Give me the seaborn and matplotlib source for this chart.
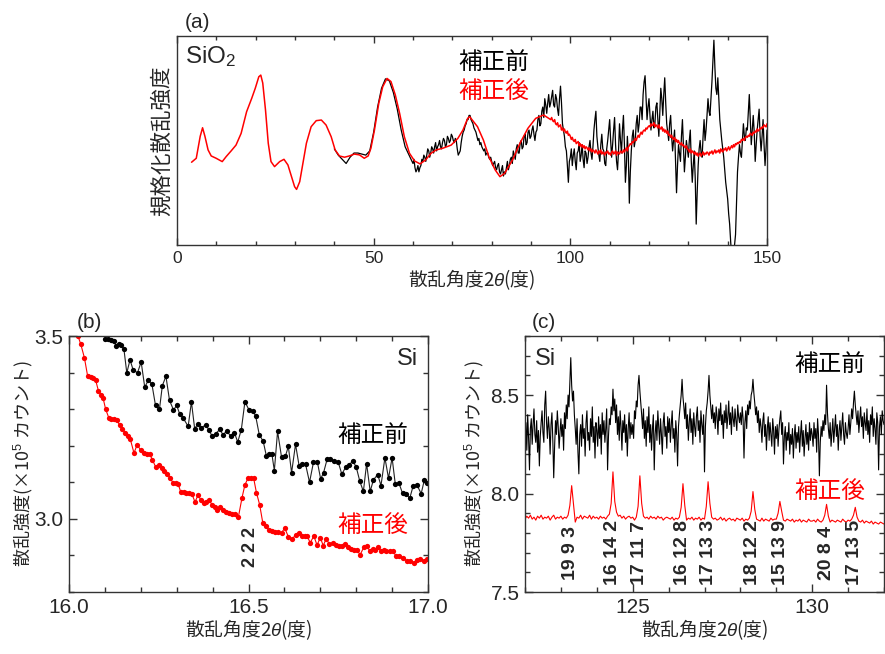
import matplotlib
matplotlib.use('Agg')
import matplotlib.pyplot as plt
from matplotlib.ticker import MultipleLocator, NullLocator
import numpy as np
import pandas as pd
import seaborn as sns

sns.set_style('ticks')
plt.rcParams['font.family'] = ['Liberation Sans', 'Noto Sans CJK JP']
plt.rcParams['mathtext.fontset'] = 'custom'
plt.rcParams['mathtext.rm'] = 'Liberation Sans'
plt.rcParams['mathtext.it'] = 'Liberation Sans:italic'
JP = 'Noto Sans CJK JP'

RED = '#ff0000'
BLK = '#000000'
AXC = '#333333'

# ---- (a) SiO2 規格化散乱強度 (任意単位) ----
red_a_x_smooth = [3.7, 4.9, 5.9, 6.5, 7.1, 7.9, 8.7, 9.95, 11.5, 12.5, 13.8, 15.0, 16.3, 17.7,
                  19.0, 19.9, 20.8, 21.3, 21.8, 22.5, 23.2, 23.9, 24.8, 26.1, 27.2, 28.2, 29.1,
                  29.9, 30.4, 31.2, 32.0, 32.9, 34.1, 35.4, 36.7, 37.9, 39.2, 40.2, 41.3, 42.6,
                  43.8, 45.1, 46.4, 47.6, 48.6, 49.3, 50.2, 51.3, 52.3, 53.4, 54.4, 55.5, 56.6,
                  57.8, 59.1, 60.4, 61.8, 63.2, 64.6, 65.9, 67.6, 69.7, 71.4, 72.7, 73.9, 74.4,
                  76.4, 77.9, 79.3, 80.9, 82.1, 83.3, 85.3, 87.2, 89.2, 91.2, 93.2]
red_a_y_smooth = [0.396, 0.415, 0.52, 0.561, 0.52, 0.455, 0.426, 0.415, 0.399, 0.423, 0.451, 0.478,
                  0.534, 0.638, 0.702, 0.75, 0.805, 0.813, 0.775, 0.646, 0.487, 0.399, 0.375, 0.399,
                  0.41, 0.383, 0.327, 0.279, 0.266, 0.303, 0.391, 0.487, 0.566, 0.595, 0.598, 0.574,
                  0.518, 0.455, 0.426, 0.42, 0.426, 0.435, 0.431, 0.415, 0.426, 0.463, 0.55, 0.678,
                  0.757, 0.797, 0.782, 0.718, 0.63, 0.518, 0.439, 0.402, 0.388, 0.407, 0.439, 0.455,
                  0.463, 0.478, 0.51, 0.55, 0.606, 0.614, 0.566, 0.502, 0.422, 0.359, 0.327, 0.343,
                  0.407, 0.487, 0.558, 0.606, 0.622]
# 95.00 - 150.00, 0.25度刻み
red_a_tail = [0.60, 0.61, 0.595, 0.59, 0.60, 0.58, 0.575, 0.585, 0.565, 0.57, 0.575, 0.55, 0.56, 0.545, 0.555, 0.54, 0.535, 0.545, 0.525, 0.53,
              0.52, 0.505, 0.515, 0.50, 0.495, 0.505, 0.485, 0.49, 0.495, 0.475, 0.485, 0.47, 0.48, 0.465, 0.475, 0.46, 0.47, 0.465, 0.455, 0.465,
              0.45, 0.46, 0.445, 0.455, 0.45, 0.44, 0.455, 0.445, 0.435, 0.45, 0.44, 0.455, 0.435, 0.445, 0.44, 0.43, 0.445, 0.44, 0.45, 0.435,
              0.44, 0.43, 0.445, 0.45, 0.435, 0.44, 0.45, 0.43, 0.445, 0.44, 0.435, 0.45, 0.445, 0.44, 0.455, 0.445, 0.455, 0.465, 0.45, 0.47,
              0.475, 0.485, 0.48, 0.495, 0.49, 0.50, 0.51, 0.50, 0.515, 0.525, 0.515, 0.53, 0.54, 0.53, 0.545, 0.55, 0.545, 0.56, 0.555, 0.565,
              0.57, 0.565, 0.58, 0.57, 0.575, 0.585, 0.565, 0.575, 0.57, 0.56, 0.575, 0.56, 0.555, 0.565, 0.545, 0.555, 0.54, 0.55, 0.535, 0.545,
              0.525, 0.53, 0.515, 0.525, 0.51, 0.505, 0.515, 0.495, 0.505, 0.49, 0.50, 0.485, 0.48, 0.49, 0.475, 0.48, 0.47, 0.465, 0.475, 0.46,
              0.455, 0.445, 0.46, 0.44, 0.45, 0.445, 0.435, 0.445, 0.43, 0.44, 0.425, 0.435, 0.44, 0.425, 0.435, 0.445, 0.43, 0.44, 0.435, 0.445,
              0.44, 0.43, 0.445, 0.44, 0.45, 0.435, 0.445, 0.455, 0.44, 0.45, 0.445, 0.455, 0.44, 0.46, 0.45, 0.445, 0.46, 0.455, 0.465, 0.45,
              0.46, 0.47, 0.455, 0.465, 0.475, 0.465, 0.48, 0.47, 0.485, 0.48, 0.49, 0.485, 0.495, 0.49, 0.505, 0.50, 0.51, 0.50, 0.515, 0.52,
              0.515, 0.525, 0.52, 0.535, 0.53, 0.525, 0.54, 0.535, 0.545, 0.54, 0.555, 0.545, 0.55, 0.56, 0.555, 0.565, 0.56, 0.575, 0.57, 0.565,
              0.58]
blk_a_x_head = [40, 41, 42, 43, 44, 45, 46, 47, 48, 49, 50, 51, 52, 53, 54, 55, 56, 57, 58, 59]
blk_a_y_head = [0.46, 0.43, 0.41, 0.39, 0.42, 0.44, 0.44, 0.435, 0.43, 0.45,
                0.54, 0.66, 0.75, 0.795, 0.785, 0.73, 0.65, 0.55, 0.47, 0.43]
# 60.00 - 150.00, 0.25度刻み
blk_a_tail = [0.39, 0.41, 0.37, 0.35, 0.36, 0.38, 0.35, 0.37, 0.38, 0.41, 0.40, 0.43, 0.42, 0.40, 0.43, 0.46, 0.45, 0.42, 0.44, 0.47,
              0.46, 0.44, 0.47, 0.49, 0.45, 0.47, 0.48, 0.50, 0.47, 0.46, 0.49, 0.51, 0.50, 0.47, 0.48, 0.52, 0.51, 0.49, 0.50, 0.53,
              0.52, 0.50, 0.49, 0.51, 0.50, 0.46, 0.43, 0.44, 0.45, 0.49, 0.52, 0.54, 0.55, 0.57, 0.58, 0.60, 0.60, 0.62, 0.62, 0.60,
              0.59, 0.58, 0.56, 0.55, 0.54, 0.52, 0.50, 0.51, 0.48, 0.49, 0.47, 0.46, 0.45, 0.46, 0.43, 0.44, 0.44, 0.42, 0.41, 0.42,
              0.40, 0.38, 0.39, 0.40, 0.37, 0.36, 0.38, 0.39, 0.35, 0.34, 0.36, 0.38, 0.33, 0.35, 0.34, 0.37, 0.40, 0.36, 0.38, 0.41,
              0.42, 0.39, 0.45, 0.43, 0.41, 0.46, 0.48, 0.44, 0.44, 0.49, 0.50, 0.46, 0.47, 0.52, 0.53, 0.48, 0.49, 0.54, 0.55, 0.51,
              0.52, 0.55, 0.57, 0.53, 0.50, 0.54, 0.55, 0.60, 0.62, 0.57, 0.58, 0.64, 0.66, 0.61, 0.70, 0.67, 0.63, 0.68, 0.72, 0.66,
              0.68, 0.71, 0.74, 0.67, 0.66, 0.72, 0.70, 0.65, 0.62, 0.70, 0.76, 0.68, 0.58, 0.55, 0.52, 0.47, 0.45, 0.38, 0.30, 0.40,
              0.42, 0.46, 0.38, 0.43, 0.46, 0.40, 0.36, 0.44, 0.45, 0.49, 0.40, 0.43, 0.48, 0.41, 0.37, 0.45, 0.44, 0.39, 0.42, 0.47,
              0.50, 0.44, 0.41, 0.47, 0.55, 0.60, 0.64, 0.52, 0.47, 0.43, 0.40, 0.48, 0.53, 0.46, 0.45, 0.39, 0.38, 0.46, 0.50, 0.55,
              0.60, 0.50, 0.42, 0.48, 0.55, 0.61, 0.48, 0.40, 0.36, 0.45, 0.58, 0.50, 0.44, 0.55, 0.62, 0.48, 0.30, 0.38, 0.52, 0.43,
              0.20, 0.35, 0.45, 0.52, 0.55, 0.47, 0.50, 0.58, 0.62, 0.54, 0.58, 0.66, 0.66, 0.60, 0.72, 0.78, 0.81, 0.70, 0.60, 0.66,
              0.70, 0.62, 0.55, 0.60, 0.64, 0.56, 0.58, 0.66, 0.68, 0.60, 0.52, 0.64, 0.75, 0.70, 0.62, 0.72, 0.80, 0.68, 0.58, 0.54,
              0.50, 0.58, 0.62, 0.52, 0.45, 0.50, 0.55, 0.40, 0.25, 0.38, 0.48, 0.44, 0.40, 0.52, 0.60, 0.48, 0.35, 0.42, 0.50, 0.46,
              0.42, 0.50, 0.55, 0.40, 0.30, 0.38, 0.45, 0.32, 0.10, 0.25, 0.38, 0.46, 0.50, 0.44, 0.42, 0.52, 0.60, 0.50, 0.55, 0.62,
              0.70, 0.64, 0.62, 0.70, 0.78, 0.88, 0.98, 0.85, 0.75, 0.72, 0.80, 0.70, 0.60, 0.55, 0.50, 0.46, 0.42, 0.36, 0.30, 0.26,
              0.22, 0.15, 0.10, 0.02, -0.05, -0.08, -0.10, 0.00, 0.05, 0.20, 0.35, 0.42, 0.48, 0.44, 0.42, 0.50, 0.58, 0.52, 0.50, 0.56,
              0.55, 0.64, 0.72, 0.60, 0.48, 0.55, 0.62, 0.54, 0.40, 0.48, 0.55, 0.60, 0.65, 0.52, 0.45, 0.52, 0.60, 0.48, 0.38, 0.46,
              0.55]

# ---- (b) Si 低角側 (×10^5 カウント) ----
red_b_x = [16.025, 16.033, 16.043, 16.052, 16.060, 16.068, 16.074, 16.082, 16.089, 16.095,
           16.102, 16.111, 16.118, 16.125, 16.134, 16.141, 16.149, 16.156, 16.163, 16.171,
           16.181, 16.190, 16.200, 16.208, 16.216, 16.225, 16.232, 16.241, 16.251, 16.259,
           16.266, 16.274, 16.281, 16.290, 16.298, 16.304, 16.311, 16.319, 16.327, 16.334,
           16.342, 16.351, 16.360, 16.367, 16.375, 16.383, 16.391, 16.398, 16.406, 16.413,
           16.420, 16.429, 16.437, 16.446, 16.454, 16.462, 16.472, 16.482, 16.490, 16.499,
           16.507, 16.514, 16.522, 16.531, 16.540, 16.548, 16.557, 16.566, 16.574, 16.581,
           16.592, 16.601, 16.611, 16.622, 16.631, 16.640, 16.648, 16.656, 16.663, 16.672,
           16.682, 16.691, 16.700, 16.708, 16.717, 16.725, 16.734, 16.745, 16.751, 16.760,
           16.769, 16.777, 16.786, 16.794, 16.801, 16.811, 16.821, 16.829, 16.838, 16.846,
           16.852, 16.861, 16.869, 16.877, 16.884, 16.893, 16.903, 16.911, 16.920, 16.930,
           16.941, 16.950, 16.960, 16.968, 16.979, 16.988, 16.996]
red_b_y = [3.50, 3.477, 3.44, 3.39, 3.389, 3.385, 3.38, 3.35, 3.34, 3.33,
           3.30, 3.276, 3.274, 3.272, 3.27, 3.256, 3.246, 3.236, 3.226, 3.217,
           3.18, 3.203, 3.187, 3.18, 3.178, 3.177, 3.162, 3.143, 3.147, 3.138,
           3.131, 3.124, 3.113, 3.098, 3.098, 3.096, 3.074, 3.073, 3.072, 3.07,
           3.069, 3.046, 3.066, 3.051, 3.043, 3.047, 3.051, 3.039, 3.033, 3.023,
           3.032, 3.023, 3.02, 3.015, 3.014, 3.012, 3.006, 3.058, 3.093, 3.112,
           3.112, 3.113, 3.072, 3.039, 2.988, 2.981, 2.969, 2.966, 2.965, 2.963,
           2.962, 2.975, 2.951, 2.944, 2.957, 2.96, 2.954, 2.954, 2.953, 2.935,
           2.953, 2.928, 2.949, 2.927, 2.946, 2.93, 2.934, 2.929, 2.927, 2.927,
           2.93, 2.922, 2.918, 2.915, 2.916, 2.902, 2.922, 2.925, 2.913, 2.918,
           2.914, 2.922, 2.913, 2.914, 2.913, 2.913, 2.911, 2.898, 2.898, 2.894,
           2.885, 2.885, 2.878, 2.888, 2.891, 2.885, 2.889]
blk_b_x = [16.100, 16.109, 16.116, 16.124, 16.132, 16.139, 16.145, 16.153, 16.161, 16.170,
           16.179, 16.191, 16.201, 16.211, 16.221, 16.231, 16.241, 16.252, 16.260, 16.270,
           16.280, 16.291, 16.300, 16.308, 16.317, 16.332, 16.341, 16.350, 16.359, 16.369,
           16.381, 16.389, 16.399, 16.409, 16.420, 16.429, 16.439, 16.450, 16.461, 16.470,
           16.480, 16.490, 16.502, 16.512, 16.520, 16.530, 16.541, 16.550, 16.558, 16.565,
           16.572, 16.581, 16.592, 16.603, 16.611, 16.620, 16.631, 16.641, 16.650, 16.659,
           16.670, 16.681, 16.692, 16.701, 16.709, 16.719, 16.728, 16.739, 16.750, 16.760,
           16.771, 16.780, 16.790, 16.800, 16.810, 16.820, 16.829, 16.839, 16.848, 16.860,
           16.869, 16.880, 16.890, 16.900, 16.909, 16.919, 16.929, 16.939, 16.949, 16.959,
           16.969, 16.981, 16.990, 16.998]
blk_b_y = [3.493, 3.491, 3.490, 3.487, 3.472, 3.479, 3.475, 3.464, 3.399, 3.435,
           3.406, 3.40, 3.429, 3.36, 3.379, 3.368, 3.31, 3.30, 3.364, 3.39,
           3.324, 3.298, 3.31, 3.288, 3.277, 3.253, 3.32, 3.247, 3.259, 3.248,
           3.258, 3.244, 3.226, 3.233, 3.245, 3.23, 3.24, 3.227, 3.235, 3.21,
           3.244, 3.32, 3.297, 3.296, 3.281, 3.23, 3.212, 3.171, 3.177, 3.178,
           3.132, 3.239, 3.169, 3.172, 3.198, 3.126, 3.204, 3.145, 3.149, 3.149,
           3.10, 3.155, 3.155, 3.109, 3.126, 3.163, 3.163, 3.157, 3.155, 3.122,
           3.142, 3.146, 3.159, 3.142, 3.103, 3.075, 3.151, 3.075, 3.107, 3.121,
           3.091, 3.167, 3.111, 3.167, 3.094, 3.098, 3.07, 3.069, 3.056, 3.091,
           3.093, 3.069, 3.107, 3.099]

# ---- (c) Si 高角側 (×10^5 カウント) ----
# 補正前: 122.000 - 132.000, 0.025度刻み
blk_c = [8.30, 8.36, 8.22, 8.40, 8.28, 8.12, 8.33, 8.38, 8.25, 8.35, 8.43, 8.30, 8.26, 8.37, 8.21, 8.32, 8.14, 8.29, 8.36, 8.42,
         8.31, 8.26, 8.45, 8.52, 8.36, 8.28, 8.39, 8.33, 8.20, 8.35, 8.41, 8.27, 8.08, 8.24, 8.37, 8.30, 8.42, 8.34, 8.23, 8.31,
         8.38, 8.29, 8.35, 8.22, 8.41, 8.33, 8.45, 8.38, 8.50, 8.44, 8.56, 8.69, 8.55, 8.47, 8.52, 8.40, 8.33, 8.25, 8.38, 8.21,
         8.10, 8.30, 8.35, 8.24, 8.40, 8.28, 8.33, 8.19, 8.36, 8.42, 8.27, 8.31, 8.22, 8.38, 8.29, 8.44, 8.26, 8.34, 8.18, 8.36,
         8.32, 8.24, 8.39, 8.28, 8.35, 8.20, 8.41, 8.30, 8.37, 8.26, 8.33, 8.43, 8.12, 8.29, 8.38, 8.35, 8.44, 8.40, 8.53, 8.42,
         8.48, 8.36, 8.45, 8.30, 8.39, 8.27, 8.42, 8.34, 8.22, 8.37, 8.31, 8.40, 8.26, 8.35, 8.19, 8.33, 8.41, 8.28, 8.36, 8.30,
         8.35, 8.28, 8.42, 8.38, 8.47, 8.44, 8.55, 8.60, 8.52, 8.46, 8.40, 8.33, 8.43, 8.28, 8.37, 8.24, 8.39, 8.31, 8.44, 8.26,
         8.35, 8.22, 8.33, 8.40, 8.12, 8.30, 8.37, 8.27, 8.42, 8.33, 8.25, 8.38, 8.30, 8.20, 8.36, 8.41, 8.29, 8.34, 8.23, 8.39,
         8.31, 8.38, 8.26, 8.35, 8.42, 8.28, 8.33, 8.21, 8.37, 8.30, 8.14, 8.34, 8.40, 8.45, 8.50, 8.58, 8.49, 8.44, 8.38, 8.46,
         8.33, 8.40, 8.27, 8.36, 8.43, 8.31, 8.38, 8.25, 8.41, 8.34, 8.29, 8.39, 8.44, 8.32, 8.37, 8.26, 8.42, 8.35, 8.30, 8.40,
         8.11, 8.34, 8.42, 8.46, 8.52, 8.60, 8.50, 8.44, 8.38, 8.45, 8.36, 8.41, 8.33, 8.44, 8.39, 8.30, 8.43, 8.37, 8.46, 8.35,
         8.40, 8.28, 8.42, 8.36, 8.45, 8.33, 8.39, 8.47, 8.35, 8.41, 8.30, 8.44, 8.38, 8.34, 8.43, 8.37, 8.32, 8.45, 8.39, 8.36,
         8.41, 8.35, 8.44, 8.38, 8.18, 8.36, 8.42, 8.33, 8.45, 8.40, 8.47, 8.43, 8.50, 8.52, 8.58, 8.51, 8.46, 8.40, 8.44, 8.36,
         8.42, 8.31, 8.38, 8.34, 8.26, 8.37, 8.41, 8.29, 8.35, 8.22, 8.33, 8.39, 8.27, 8.36, 8.30, 8.24, 8.38, 8.32, 8.20, 8.34,
         8.28, 8.35, 8.24, 8.33, 8.38, 8.42, 8.30, 8.36, 8.15, 8.29, 8.34, 8.22, 8.31, 8.27, 8.36, 8.20, 8.30, 8.25, 8.33, 8.18,
         8.29, 8.35, 8.23, 8.31, 8.26, 8.34, 8.21, 8.30, 8.37, 8.24, 8.32, 8.19, 8.28, 8.35, 8.25, 8.31, 8.22, 8.36, 8.27, 8.33,
         8.30, 8.24, 8.36, 8.28, 8.33, 8.21, 8.38, 8.30, 8.09, 8.26, 8.34, 8.29, 8.37, 8.32, 8.40, 8.35, 8.55, 8.41, 8.33, 8.28,
         8.36, 8.24, 8.31, 8.38, 8.26, 8.33, 8.40, 8.29, 8.35, 8.22, 8.32, 8.37, 8.27, 8.34, 8.41, 8.30, 8.25, 8.36, 8.31, 8.28,
         8.33, 8.40, 8.30, 8.36, 8.43, 8.38, 8.46, 8.52, 8.45, 8.40, 8.35, 8.42, 8.31, 8.38, 8.44, 8.34, 8.39, 8.28, 8.41, 8.36,
         8.32, 8.43, 8.30, 8.37, 8.26, 8.40, 8.35, 8.44, 8.29, 8.38, 8.33, 8.25, 8.41, 8.36, 8.12, 8.34, 8.39, 8.30, 8.42, 8.37,
         8.35]
# 補正後: 122.00 - 132.00, 0.05度刻み
red_c = [7.87, 7.885, 7.875, 7.89, 7.87, 7.88, 7.865, 7.885, 7.875, 7.89, 7.87, 7.88, 7.875, 7.885, 7.865, 7.88, 7.89, 7.87, 7.88, 7.875,
         7.885, 7.87, 7.88, 7.875, 7.89, 7.94, 8.04, 7.95, 7.855, 7.88, 7.875, 7.89, 7.87, 7.885, 7.88, 7.875, 7.89, 7.87, 7.885, 7.875,
         7.88, 7.87, 7.885, 7.875, 7.88, 7.87, 7.885, 7.895, 7.95, 8.11, 7.96, 7.905, 7.885, 7.89, 7.875, 7.885, 7.87, 7.88, 7.885, 7.875,
         7.88, 7.865, 7.88, 7.935, 8.09, 7.95, 7.885, 7.875, 7.88, 7.87, 7.885, 7.875, 7.88, 7.87, 7.885, 7.875, 7.88, 7.865, 7.875, 7.88,
         7.875, 7.87, 7.88, 7.865, 7.875, 7.87, 7.88, 7.93, 8.05, 7.94, 7.865, 7.875, 7.87, 7.88, 7.865, 7.875, 7.87, 7.88, 7.865, 7.875,
         7.87, 7.935, 8.06, 7.95, 7.88, 7.87, 7.875, 7.865, 7.87, 7.88, 7.865, 7.875, 7.86, 7.87, 7.875, 7.865, 7.87, 7.86, 7.875, 7.87,
         7.865, 7.875, 7.86, 7.87, 7.865, 7.875, 7.91, 8.01, 7.92, 7.87, 7.865, 7.86, 7.875, 7.86, 7.87, 7.865, 7.86, 7.875, 7.865, 7.87,
         7.87, 7.90, 7.96, 7.91, 7.865, 7.86, 7.87, 7.865, 7.86, 7.87, 7.855, 7.865, 7.86, 7.87, 7.855, 7.865, 7.86, 7.855, 7.87, 7.86,
         7.86, 7.865, 7.855, 7.87, 7.86, 7.855, 7.865, 7.89, 7.945, 7.885, 7.855, 7.865, 7.86, 7.855, 7.865, 7.86, 7.855, 7.87, 7.86, 7.855,
         7.865, 7.86, 7.87, 7.89, 7.93, 7.88, 7.86, 7.855, 7.865, 7.85, 7.86, 7.855, 7.85, 7.86, 7.845, 7.855, 7.85, 7.845, 7.855, 7.85,
         7.845]
peak_pos = [123.28, 124.45, 125.18, 126.38, 127.12, 128.35, 129.12, 130.41, 131.18]
peak_hkl = ['19 9 3', '16 14 2', '17 11 7', '16 12 8', '17 13 3', '18 12 2', '15 13 9', '20 8 4', '17 13 5']

# ---- DataFrames ----
df_a_red = pd.DataFrame({'x': red_a_x_smooth + list(np.linspace(95.0, 150.0, len(red_a_tail))),
                         'y': red_a_y_smooth + red_a_tail})
df_a_blk = pd.DataFrame({'x': blk_a_x_head + list(np.linspace(60.0, 150.0, len(blk_a_tail))),
                         'y': blk_a_y_head + blk_a_tail})
x_c_blk = np.linspace(122.0, 132.0, len(blk_c))
x_c_red = np.linspace(122.0, 132.0, len(red_c))

W, H = 885, 654
fig = plt.figure(figsize=(W / 100, H / 100), dpi=100)
ax_a = fig.add_axes([177 / W, 1 - 245 / H, 590 / W, 209 / H])
ax_b = fig.add_axes([69 / W, 1 - 592 / H, 359 / W, 256 / H])
ax_c = fig.add_axes([525 / W, 1 - 592 / H, 359 / W, 256 / H])


def ftext(x, y, s, **kw):
    fig.text(x / W, 1 - y / H, s, **kw)


def style(ax, size):
    for sp in ax.spines.values():
        sp.set_visible(True)
        sp.set_color(AXC)
        sp.set_linewidth(1.0)
    ax.tick_params(which='both', direction='in', top=True, right=True,
                   color=AXC, width=1.0, labelsize=size, pad=4)
    ax.tick_params(which='major', length=6)
    ax.tick_params(which='minor', length=3.5)


# (a)
sns.lineplot(data=df_a_blk, x='x', y='y', ax=ax_a, color=BLK, linewidth=0.9,
             sort=False, estimator=None, zorder=2)
sns.lineplot(data=df_a_red, x='x', y='y', ax=ax_a, color=RED, linewidth=1.1,
             sort=False, estimator=None, zorder=3)
ax_a.set_xlim(0, 150)
ax_a.set_ylim(0, 1)
style(ax_a, 12.5)
ax_a.xaxis.set_major_locator(MultipleLocator(50))
ax_a.xaxis.set_minor_locator(MultipleLocator(10))
ax_a.yaxis.set_major_locator(NullLocator())
ax_a.tick_params(axis='x', which='major', length=5)
ax_a.tick_params(axis='x', which='minor', length=3)
ax_a.set_xlabel('散乱角度2$\\mathit{\\theta}$(度)', family=JP, fontsize=13.5)
ax_a.xaxis.set_label_coords(0.5, -0.1675)
ax_a.xaxis.label.set_verticalalignment('center')
ax_a.set_ylabel('規格化散乱強度', family=JP, fontsize=15.5)
ax_a.yaxis.set_label_coords(-0.0254, 0.5)
ax_a.yaxis.label.set_verticalalignment('center')

# (b)
sns.lineplot(x=blk_b_x, y=blk_b_y, ax=ax_b, color='#222222', linewidth=0.8, marker='o',
             markersize=3.8, markerfacecolor=BLK, markeredgewidth=0, sort=False, estimator=None)
sns.lineplot(x=red_b_x, y=red_b_y, ax=ax_b, color=RED, linewidth=0.8, marker='o',
             markersize=3.8, markerfacecolor=RED, markeredgewidth=0, sort=False, estimator=None)
ax_b.set_xlim(16.0, 17.0)
ax_b.set_ylim(2.8, 3.5)
style(ax_b, 15)
ax_b.xaxis.set_major_locator(MultipleLocator(0.5))
ax_b.xaxis.set_minor_locator(MultipleLocator(0.1))
ax_b.yaxis.set_major_locator(MultipleLocator(0.5))
ax_b.yaxis.set_minor_locator(MultipleLocator(0.1))
ax_b.xaxis.set_major_formatter('{x:.1f}')
ax_b.yaxis.set_major_formatter('{x:.1f}')

# (c)
sns.lineplot(x=x_c_blk, y=blk_c, ax=ax_c, color=BLK, linewidth=0.8, sort=False, estimator=None)
sns.lineplot(x=x_c_red, y=red_c, ax=ax_c, color=RED, linewidth=0.8, sort=False, estimator=None)
ax_c.set_xlim(122, 132)
ax_c.set_ylim(7.5, 8.8)
style(ax_c, 15)
ax_c.xaxis.set_major_locator(MultipleLocator(5))
ax_c.xaxis.set_minor_locator(MultipleLocator(1))
ax_c.yaxis.set_major_locator(MultipleLocator(0.5))
ax_c.yaxis.set_minor_locator(MultipleLocator(0.1))
ax_c.yaxis.set_major_formatter('{x:.1f}')
for pos, hkl in zip(peak_pos, peak_hkl):
    ax_c.text(pos, 7.70, hkl, rotation=90, ha='center', va='center',
              fontsize=14, fontweight='bold', family='Liberation Sans')

for ax, ylx in ((ax_b, -0.128), (ax_c, -0.142)):
    ax.set_xlabel('散乱角度2$\\mathit{\\theta}$(度)', family=JP, fontsize=13.5)
    ax.xaxis.set_label_coords(0.5, -0.1484)
    ax.xaxis.label.set_verticalalignment('center')
    ax.set_ylabel('散乱強度(×10$^{\\mathrm{5}}$ カウント)', family=JP, fontsize=13)
    ax.yaxis.set_label_coords(ylx, 0.5)
    ax.yaxis.label.set_verticalalignment('center')

# 注記
ftext(197, 22, '(a)', fontsize=15, ha='center', va='center')
ftext(89, 322, '(b)', fontsize=15, ha='center', va='center')
ftext(544, 322, '(c)', fontsize=15, ha='center', va='center')
ftext(185, 57, 'SiO$_{\\mathrm{2}}$', fontsize=17.5, ha='left', va='center', family='Liberation Sans')
ftext(458, 63, '補正前', fontsize=17, ha='left', va='center', color=BLK)
ftext(458, 92, '補正後', fontsize=17, ha='left', va='center', color=RED)
ftext(418, 359, 'Si', fontsize=17, ha='right', va='center')
ftext(373, 436, '補正前', fontsize=17, ha='center', va='center', color=BLK)
ftext(373, 526, '補正後', fontsize=17, ha='center', va='center', color=RED)
ax_b.text(16.505, 2.9235, '2 2 2', rotation=90, ha='center', va='center',
          fontsize=13, fontweight='bold', family='Liberation Sans')
ftext(535, 359, 'Si', fontsize=17, ha='left', va='center')
ftext(830, 365, '補正前', fontsize=17, ha='center', va='center', color=BLK)
ftext(830, 492, '補正後', fontsize=17, ha='center', va='center', color=RED)

fig.savefig('out.png', dpi=100, facecolor='white')
plt.close(fig)
